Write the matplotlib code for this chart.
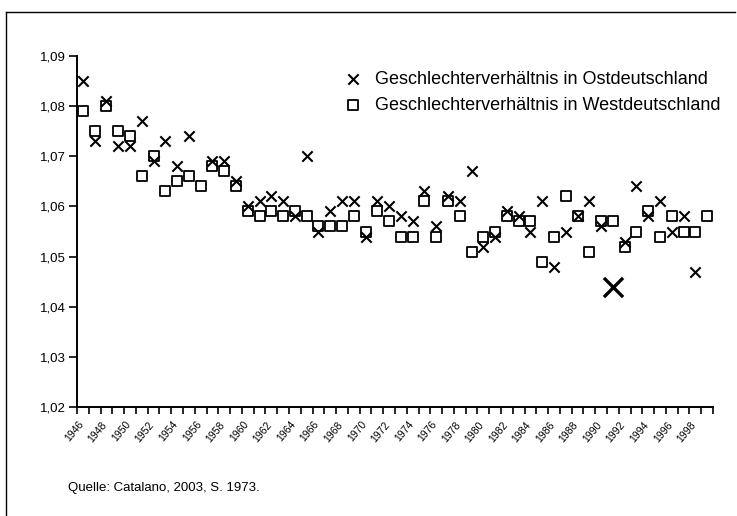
import numpy as np
import matplotlib
matplotlib.use("Agg")
import matplotlib.pyplot as plt
from matplotlib.ticker import FixedLocator, FuncFormatter
from matplotlib.lines import Line2D
import matplotlib.transforms as mtransforms

plt.rcParams['font.family'] = ['Liberation Sans', 'DejaVu Sans']

years = list(range(1946, 2000))
ost = [1.085, 1.073, 1.081, 1.072, 1.072, 1.077, 1.069, 1.073, 1.068, 1.074,
       np.nan, 1.069, 1.069, 1.065, 1.060, 1.061, 1.062, 1.061, 1.058, 1.070,
       1.055, 1.059, 1.061, 1.061, 1.054, 1.061, 1.060, 1.058, 1.057, 1.063,
       1.056, 1.062, 1.061, 1.067, 1.052, 1.054, 1.059, 1.058, 1.055, 1.061,
       1.048, 1.055, 1.058, 1.061, 1.056, 1.044, 1.053, 1.064, 1.058, 1.061,
       1.055, 1.058, 1.047, np.nan]
west = [1.079, 1.075, 1.080, 1.075, 1.074, 1.066, 1.070, 1.063, 1.065, 1.066,
        1.064, 1.068, 1.067, 1.064, 1.059, 1.058, 1.059, 1.058, 1.059, 1.058,
        1.056, 1.056, 1.056, 1.058, 1.055, 1.059, 1.057, 1.054, 1.054, 1.061,
        1.054, 1.061, 1.058, 1.051, 1.054, 1.055, 1.058, 1.057, 1.057, 1.049,
        1.054, 1.062, 1.058, 1.051, 1.057, 1.057, 1.052, 1.055, 1.059, 1.054,
        1.058, 1.055, 1.055, 1.058]
big_year = [1991]
big_val = [1.044]
label_years = list(range(1946, 1999, 2))
yticks = [1.02, 1.03, 1.04, 1.05, 1.06, 1.07, 1.08, 1.09]
label_ost = "Geschlechterverhältnis in Ostdeutschland"
label_west = "Geschlechterverhältnis in Westdeutschland"
source = "Quelle: Catalano, 2003, S. 1973."

fig = plt.figure(figsize=(7.37, 5.16), dpi=100)
ax = fig.add_axes([0.1045, 0.2112, 0.8629, 0.6803])

yr = np.array(years)
o = np.array(ost, dtype=float)
w = np.array(west, dtype=float)
mask_big = np.isin(yr, big_year)
hw = ax.scatter(yr, w, marker='s', s=55, facecolor='white', edgecolor='black',
                linewidths=1.3, zorder=2)
ho = ax.scatter(yr[~mask_big], o[~mask_big], marker='x', s=55, color='black',
                linewidths=1.5, zorder=3)
ax.scatter(big_year, big_val, marker='x', s=190, color='black',
           linewidths=2.4, zorder=3)

ax.set_xlim(1945.5, 1999.5)
ax.set_ylim(1.02, 1.09)
ax.spines['top'].set_visible(False)
ax.spines['right'].set_visible(False)
ax.spines['left'].set_linewidth(1.4)
ax.spines['bottom'].set_linewidth(1.4)

ax.yaxis.set_major_locator(FixedLocator(yticks))
ax.yaxis.set_major_formatter(FuncFormatter(lambda v, p: f"{v:.2f}".replace('.', ',')))
ax.tick_params(axis='y', length=6, width=1.2, labelsize=9.5, pad=2)

ax.xaxis.set_major_locator(FixedLocator(label_years))
ax.set_xticklabels([str(y) for y in label_years], rotation=50, ha='right',
                   rotation_mode='anchor', fontsize=7.5)
ax.tick_params(axis='x', which='major', length=0, pad=9)
ax.xaxis.set_minor_locator(FixedLocator(np.arange(1945.5, 2000, 1.0)))
ax.tick_params(axis='x', which='minor', length=5, width=1.2)
offset = mtransforms.ScaledTranslation(-0.05, 0, fig.dpi_scale_trans)
for lab in ax.get_xticklabels():
    lab.set_transform(lab.get_transform() + offset)

ax.legend([ho, hw], [label_ost, label_west], loc='upper left', frameon=False,
          fontsize=13, handlelength=0.6, handletextpad=0.9, borderpad=0,
          borderaxespad=0, labelspacing=0.5,
          bbox_to_anchor=(347.9 / 737, 1 - 71 / 516),
          bbox_transform=fig.transFigure)

fig.text(68 / 737, 1 - 488 / 516, source, fontsize=9.5, va='center', ha='left')
fig.add_artist(Line2D([6 / 737, 6 / 737], [0, 1 - 12 / 516],
                      transform=fig.transFigure, color='black', linewidth=1.0))
fig.add_artist(Line2D([6 / 737, 735 / 737], [1 - 12 / 516, 1 - 12 / 516],
                      transform=fig.transFigure, color='black', linewidth=1.0))

fig.savefig("out.png", dpi=100)
